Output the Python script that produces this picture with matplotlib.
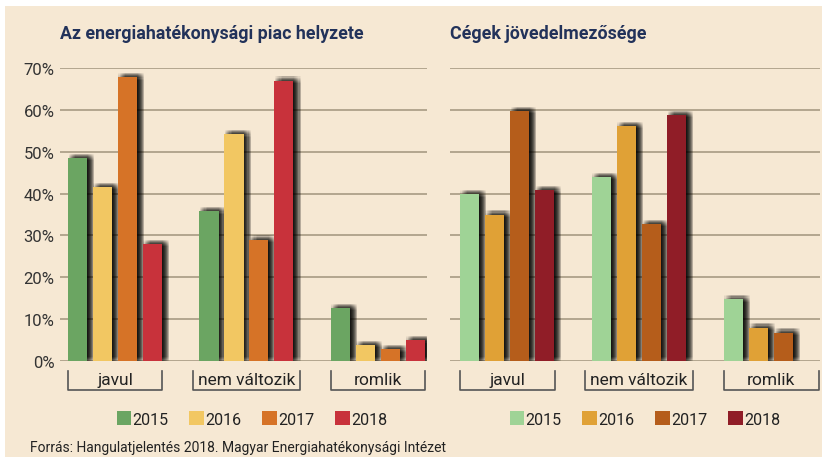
import numpy as np
import matplotlib
matplotlib.use("Agg")
import matplotlib.pyplot as plt
import matplotlib.patheffects as pe
from matplotlib.patches import Rectangle, Patch

plt.rcParams['font.family'] = ['Roboto', 'DejaVu Sans']

# Adatok
kategoriak = ["javul", "nem változik", "romlik"]
evek = ["2015", "2016", "2017", "2018"]

# Az energiahatékonysági piac helyzete (%)
piac_2015 = [48.5, 35.8, 12.7]
piac_2016 = [41.6, 54.2, 3.9]
piac_2017 = [67.8, 29.0, 2.8]
piac_2018 = [28.0, 67.0, 5.0]

# Cégek jövedelmezősége (%)
ceg_2015 = [39.8, 44.0, 14.7]
ceg_2016 = [35.0, 56.2, 8.0]
ceg_2017 = [59.8, 32.8, 6.8]
ceg_2018 = [40.8, 58.8, 0.0]

szin_bal = ["#6ba562", "#f2c762", "#d67327", "#c8323b"]
szin_jobb = ["#9fd396", "#e0a136", "#b55d1b", "#901d27"]

hatter = "#f6e8d3"
racs = "#b3a68f"

fig = plt.figure(figsize=(8.24, 4.6), dpi=100, facecolor="white")
fig.patches.append(Rectangle((5 / 824, 2 / 460), 817 / 824, 451 / 460,
                             transform=fig.transFigure, facecolor=hatter,
                             edgecolor="none", zorder=-10))

# elmosott árnyék: sok halvány, eltolt másolat
arnyek = []
for u in np.arange(-2.4, 2.5, 0.8):
    for v in np.arange(-2.4, 2.5, 0.8):
        arnyek.append(pe.SimplePatchShadow(offset=(2.8 + u, 0.6 + v),
                                           shadow_rgbFace="black", alpha=0.038))
arnyek.append(pe.Normal())


def rajzol(ax, sorozatok, szinek, cim, ytick_label, legend_x):
    x = np.arange(len(kategoriak))
    lepes = 0.19
    szel = 0.145
    for i, ert in enumerate(sorozatok):
        bars = ax.bar(x + (i - 1.5) * lepes, ert, width=szel, color=szinek[i],
                      zorder=3, linewidth=0)
        for b in bars:
            if b.get_height() > 0:
                b.set_path_effects(arnyek)
    ax.set_ylim(0, 70)
    ax.set_yticks(np.arange(0, 71, 10))
    ax.yaxis.grid(True, color=racs, linewidth=1.4)
    ax.set_axisbelow(True)
    ax.set_facecolor("none")
    for s in ax.spines.values():
        s.set_visible(False)
    ax.tick_params(axis="both", length=0)
    ax.set_xticks([])
    if ytick_label:
        ax.set_yticklabels([f"{v}%" for v in range(0, 71, 10)], fontsize=12, color="#333333")
        ax.tick_params(axis="y", pad=4)
    else:
        ax.set_yticklabels([])
    ax.text(0.0, 1.09, cim, transform=ax.transAxes, fontsize=12.8, fontweight="bold",
            color="#22325a", ha="left", va="bottom")

    # kategória címkék zárójellel
    tr = ax.get_xaxis_transform()
    felszel = [0.36, 0.41, 0.36]
    for i, k in enumerate(kategoriak):
        x0, x1 = i - felszel[i], i + felszel[i]
        ax.plot([x0, x0, x1, x1], [-0.035, -0.1, -0.1, -0.035], transform=tr,
                color="#555555", linewidth=1.2, clip_on=False)
        ax.text(i, -0.063, k, transform=tr, ha="center", va="center",
                fontsize=12.5, color="#222222")

    kezek = [Patch(facecolor=szinek[i], edgecolor="none", label=evek[i]) for i in range(4)]
    fig.legend(handles=kezek, loc="center", bbox_to_anchor=(legend_x, 1 - 420 / 460),
               ncol=4, frameon=False, fontsize=11.5, handlelength=0.9, handleheight=0.9,
               handletextpad=0.1, columnspacing=1.3, labelcolor="#222222")


ax1 = fig.add_axes([60 / 824, 1 - 362 / 460, 367 / 824, 293 / 460])
ax1.set_xlim(-0.418, 2.373)
rajzol(ax1, [piac_2015, piac_2016, piac_2017, piac_2018], szin_bal,
       "Az energiahatékonysági piac helyzete", True, 252 / 824)

ax2 = fig.add_axes([450 / 824, 1 - 362 / 460, 370 / 824, 293 / 460])
ax2.set_xlim(-0.432, 2.371)
rajzol(ax2, [ceg_2015, ceg_2016, ceg_2017, ceg_2018], szin_jobb,
       "Cégek jövedelmezősége", False, 645 / 824)

fig.text(30 / 824, 1 - 448 / 460, "Forrás: Hangulatjelentés 2018. Magyar Energiahatékonysági Intézet",
         fontsize=10, color="#222222", ha="left", va="center")

fig.savefig("out.png", dpi=100, facecolor="white")
